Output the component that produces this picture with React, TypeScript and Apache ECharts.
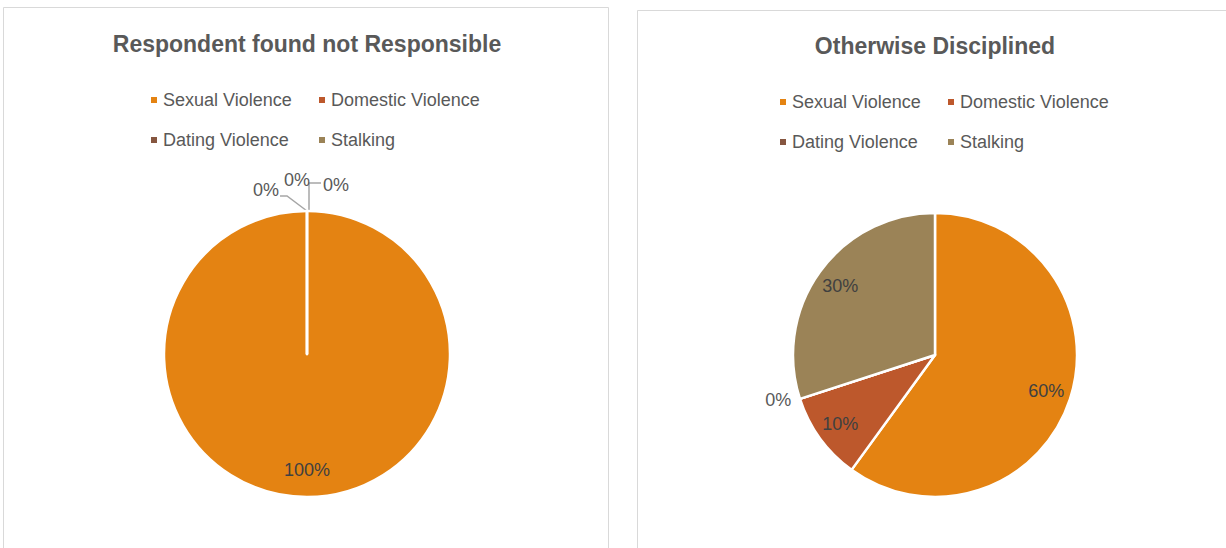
import React, { useEffect, useRef } from "react";
import * as echarts from "echarts";

const categories = ["Sexual Violence", "Domestic Violence", "Dating Violence", "Stalking"];
const colors = ["#E48312", "#BD582C", "#865640", "#9B8357"];
const notResponsibleValues = [100, 0, 0, 0];
const disciplinedValues = [60, 10, 0, 30];
const titles = ["Respondent found not Responsible", "Otherwise Disciplined"];

const FONT = "'Liberation Sans Narrow', 'Arial Narrow', 'Liberation Sans', Arial, sans-serif";
const TEXT = "#595959";

function buildMain(values: number[], showLine: boolean) {
  return values.map((v, i) => ({
    name: categories[i],
    value: v,
    itemStyle: { color: colors[i] },
    label: { show: v === 0 },
    labelLine: { show: v === 0 && showLine && i !== 2 },
  }));
}
function buildOverlay(values: number[]) {
  return values.map((v, i) => ({
    name: categories[i],
    value: v,
    label: { show: v !== 0 },
  }));
}

// spread the stacked zero-value labels of the first pie (style offsets only)
const zeroLabelShift: Record<number, [number, number]> = {
  1: [-69, -13],
  2: [-38, -23],
  3: [1, -18],
};

export default function App() {
  const ref = useRef<HTMLDivElement>(null);
  useEffect(() => {
    const chart = echarts.init(ref.current!, null, { renderer: "svg" });
    const legendBase = {
      data: categories,
      icon: "rect",
      itemWidth: 8,
      itemHeight: 8,
      itemGap: 20,
      padding: 0,
      width: 340,
      orient: "horizontal",
      textStyle: { fontSize: 18, color: TEXT, fontFamily: FONT, width: 134, lineHeight: 20 },
    };
    const pieBase = {
      type: "pie",
      startAngle: 90,
      clockwise: true,
      animation: false,
    };
    const labelStyle = { fontSize: 18, color: "#404040", fontFamily: FONT, formatter: "{d}%" };
    chart.setOption({
      animation: false,
      backgroundColor: "#ffffff",
      graphic: [
        { type: "rect", shape: { x: 3.5, y: 7.5, width: 605, height: 560 }, style: { fill: "none", stroke: "#D9D9D9", lineWidth: 1 } },
        { type: "rect", shape: { x: 637.5, y: 10.5, width: 600, height: 560 }, style: { fill: "none", stroke: "#D9D9D9", lineWidth: 1 } },
      ],
      title: [
        { text: titles[0], left: 307, top: 32, textAlign: "center", padding: 0, textStyle: { fontSize: 23, fontWeight: "bold", color: TEXT, fontFamily: FONT } },
        { text: titles[1], left: 935, top: 34, textAlign: "center", padding: 0, textStyle: { fontSize: 23, fontWeight: "bold", color: TEXT, fontFamily: FONT } },
      ],
      legend: [
        { ...legendBase, left: 149, top: 90 },
        { ...legendBase, left: 778, top: 92 },
      ],
      series: [
        {
          ...pieBase,
          name: "main1",
          center: [307, 354],
          radius: 143,
          avoidLabelOverlap: false,
          itemStyle: { borderColor: "#ffffff", borderWidth: 2.5 },
          label: { ...labelStyle, color: TEXT, position: "outside" },
          labelLine: { length: 8, length2: 10, lineStyle: { color: "#A6A6A6", width: 1.5 } },
          labelLayout: (params: any) => {
            const s = zeroLabelShift[params.dataIndex];
            if (!s) return {};
            const r = params.labelRect;
            const p0 = params.labelLinePoints ? params.labelLinePoints[0] : null;
            const nx = r.x + s[0];
            const ny = r.y + s[1];
            const cy = ny + r.height / 2;
            const out: any = { dx: s[0], dy: s[1] };
            if (p0 && params.dataIndex === 1) {
              const right = nx + r.width;
              out.labelLinePoints = [[p0[0], p0[1]], [right + 8, cy + 6], [right + 1, cy + 6]];
            } else if (p0 && params.dataIndex === 3) {
              out.labelLinePoints = [[p0[0] + 2, p0[1]], [p0[0] + 2, cy - 2], [nx - 2, cy - 2]];
            }
            return out;
          },
          data: buildMain(notResponsibleValues, true),
        },
        {
          ...pieBase,
          name: "overlay1",
          silent: true,
          center: [307, 354],
          radius: [83, 143],
          itemStyle: { color: "rgba(0,0,0,0)" },
          label: { ...labelStyle, position: "inside" },
          labelLine: { show: false },
          data: buildOverlay(notResponsibleValues),
        },
        {
          ...pieBase,
          name: "main2",
          center: [935, 355],
          radius: 142,
          itemStyle: { borderColor: "#ffffff", borderWidth: 2.5 },
          label: { ...labelStyle, color: TEXT, position: "outside" },
          labelLine: { show: false, length: 4, length2: 0 },
          data: buildMain(disciplinedValues, false),
        },
        {
          ...pieBase,
          name: "overlay2",
          silent: true,
          center: [935, 355],
          radius: [86, 142],
          itemStyle: { color: "rgba(0,0,0,0)" },
          label: { ...labelStyle, position: "inside" },
          labelLine: { show: false },
          data: buildOverlay(disciplinedValues),
        },
      ],
    });
    return () => chart.dispose();
  }, []);
  return <div ref={ref} style={{ position: "fixed", left: 0, top: 0, width: 1226, height: 548 }} />;
}
